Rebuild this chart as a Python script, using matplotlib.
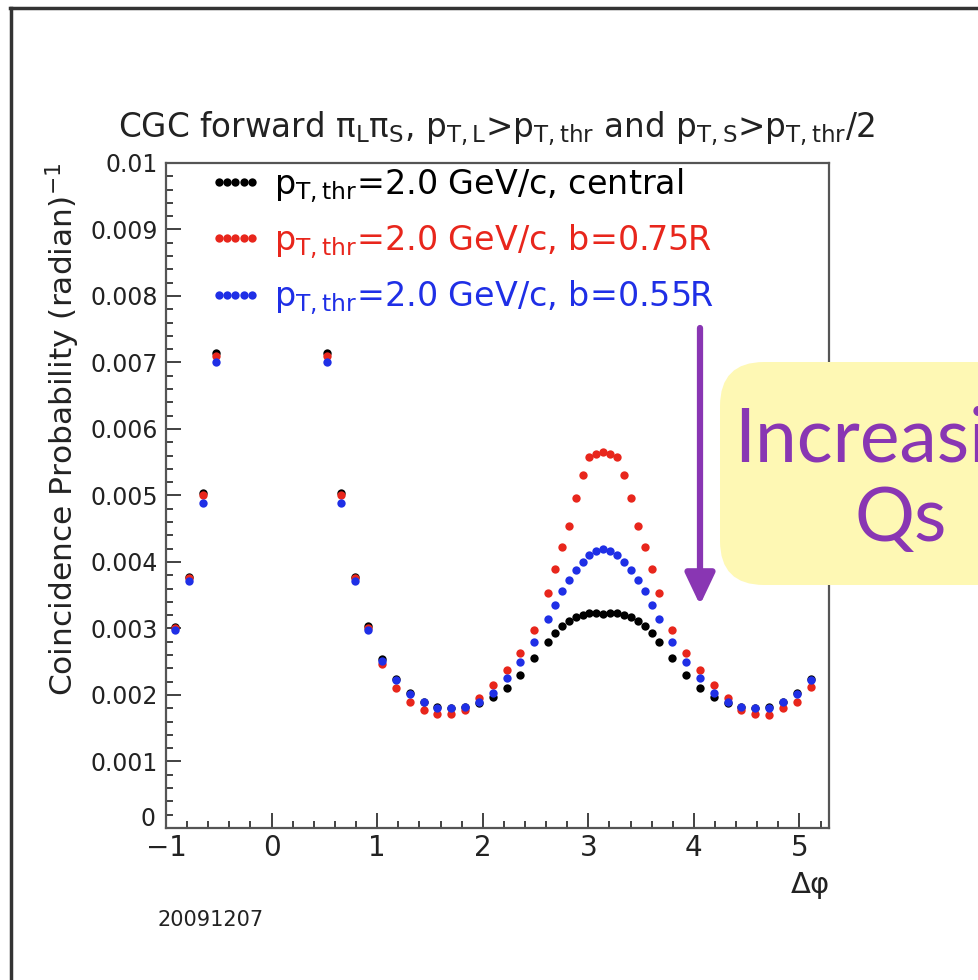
import numpy as np
import matplotlib
matplotlib.use("Agg")
import matplotlib.pyplot as plt
from matplotlib.lines import Line2D
from matplotlib.patches import FancyBboxPatch
from matplotlib.ticker import MultipleLocator, FuncFormatter

# ---- bin centres (radian): pi/24 bins, pi/48 bins around the away-side peak ----
k_near_left = np.array([-7, -6, -5, -4])
k_near_right = np.arange(4, 20)
j_peak = np.arange(40, 57)
k_far = np.arange(29, 40)
dphi = np.concatenate([k_near_left * np.pi / 24,
                       k_near_right * np.pi / 24,
                       j_peak * np.pi / 48,
                       k_far * np.pi / 24])

# ---- coincidence probability, p_T,thr = 2.0 GeV/c ----
prob_central = [
    0.00302, 0.00378, 0.00504, 0.00714,
    0.00714, 0.00503, 0.00378, 0.00303, 0.00254, 0.00224, 0.00203, 0.00190,
    0.00182, 0.00180, 0.00182, 0.00188, 0.00197, 0.00210, 0.00230, 0.00255,
    0.00280, 0.00293, 0.00303, 0.00311, 0.00317, 0.00321, 0.00323, 0.00324,
    0.00322, 0.00324, 0.00323, 0.00321, 0.00317, 0.00311, 0.00303, 0.00293,
    0.00280,
    0.00255, 0.00230, 0.00210, 0.00197, 0.00188, 0.00182, 0.00180, 0.00182,
    0.00190, 0.00203, 0.00224,
]
prob_b075 = [
    0.00300, 0.00376, 0.00500, 0.00709,
    0.00709, 0.00500, 0.00376, 0.00300, 0.00247, 0.00210, 0.00190, 0.00178,
    0.00171, 0.00172, 0.00178, 0.00195, 0.00215, 0.00238, 0.00263, 0.00298,
    0.00353, 0.00390, 0.00423, 0.00454, 0.00496, 0.00531, 0.00558, 0.00562,
    0.00565, 0.00562, 0.00558, 0.00531, 0.00496, 0.00454, 0.00423, 0.00390,
    0.00353,
    0.00298, 0.00263, 0.00238, 0.00215, 0.00195, 0.00178, 0.00172, 0.00170,
    0.00180, 0.00190, 0.00212,
]
prob_b055 = [
    0.00297, 0.00371, 0.00488, 0.00700,
    0.00700, 0.00488, 0.00371, 0.00297, 0.00251, 0.00223, 0.00202, 0.00190,
    0.00181, 0.00180, 0.00182, 0.00190, 0.00203, 0.00225, 0.00250, 0.00280,
    0.00315, 0.00336, 0.00356, 0.00373, 0.00388, 0.00400, 0.00410, 0.00417,
    0.00420, 0.00417, 0.00410, 0.00400, 0.00388, 0.00373, 0.00356, 0.00336,
    0.00315,
    0.00280, 0.00250, 0.00225, 0.00203, 0.00190, 0.00182, 0.00180, 0.00180,
    0.00190, 0.00202, 0.00222,
]

series_labels = [
    r"p$_{\rm T,thr}$=2.0 GeV/c, central",
    r"p$_{\rm T,thr}$=2.0 GeV/c, b=0.75R",
    r"p$_{\rm T,thr}$=2.0 GeV/c, b=0.55R",
]
series_colors = ["#000000", "#e8261c", "#1f2fe6"]

plt.rcParams["font.family"] = ["DejaVu Sans"]
plt.rcParams["mathtext.default"] = "regular"

fig = plt.figure(figsize=(9.79, 9.80), dpi=100)
ax = fig.add_axes([0.1696, 0.1551, 0.6772, 0.6786])

for vals, col, lab in zip([prob_central, prob_b075, prob_b055], series_colors, series_labels):
    ax.plot(dphi, vals, linestyle="none", marker="o", markersize=6.0,
            color=col, markeredgewidth=0, label=lab)

ax.set_xlim(-1.0, 5.28)
ax.set_ylim(0, 0.01)

ax.xaxis.set_major_locator(MultipleLocator(1))
ax.xaxis.set_minor_locator(MultipleLocator(0.2))
ax.yaxis.set_major_locator(MultipleLocator(0.001))
ax.yaxis.set_minor_locator(MultipleLocator(0.0002))
# the zero of the y axis is written separately, raised above the x labels
ax.yaxis.set_major_formatter(FuncFormatter(lambda v, p: "" if abs(v) < 1e-12 else "%g" % round(v, 4)))
ax.xaxis.set_major_formatter(FuncFormatter(lambda v, p: ("\u2212%d" % abs(round(v))) if v < 0 else "%d" % round(v)))

ax.tick_params(axis="both", which="both", direction="in", top=False, right=False,
               colors="#333333", width=1.3)
ax.tick_params(axis="both", which="major", length=11)
ax.tick_params(axis="both", which="minor", length=5)
ax.tick_params(axis="y", which="major", labelsize=17, pad=6, labelcolor="#222222")
ax.tick_params(axis="x", which="major", labelsize=20, pad=4, labelcolor="#222222")
for s in ax.spines.values():
    s.set_color("#555555")
    s.set_linewidth(1.6)
ax.text(-0.016, 0.014, "0", transform=ax.transAxes, ha="right", va="center",
        fontsize=17, color="#222222")

ax.set_ylabel(r"Coincidence Probability (radian)$^{-1}$", loc="top", fontsize=22.5,
              color="#222222", labelpad=6)
ax.set_xlabel(r"$\Delta\varphi$", loc="right", fontsize=21, color="#222222", labelpad=6)

leg = ax.legend(loc="upper left", bbox_to_anchor=(0.044, 1.016), frameon=False,
                fontsize=24, numpoints=5, handlelength=1.6, handletextpad=0.35,
                labelspacing=0.52, markerscale=1.0, labelcolor="linecolor",
                borderaxespad=0)

fig.text(0.507, 0.869,
         r"CGC forward $\pi_{L}\pi_{S}$, p$_{\rm T,L}$>p$_{\rm T,thr}$ and p$_{\rm T,S}$>p$_{\rm T,thr}$/2",
         ha="center", va="center", fontsize=23.5, color="#222222")
fig.text(0.215, 0.061, "20091207", ha="center", va="center", fontsize=15, color="#222222")

# slide frame
fig.add_artist(Line2D([10 / 979, 1.0], [1 - 8 / 980, 1 - 8 / 980], transform=fig.transFigure,
                      color="#333333", linewidth=2.5))
fig.add_artist(Line2D([11 / 979, 11 / 979], [0.0, 1 - 8 / 980], transform=fig.transFigure,
                      color="#333333", linewidth=2.5))

# annotation: arrow and callout
purple = "#8936b3"
fig.patches.append(FancyBboxPatch((720 / 979, 1 - 585 / 980), 300 / 979, 223 / 980,
                                  boxstyle="round,pad=0,rounding_size=0.045",
                                  transform=fig.transFigure, facecolor="#fef8b4",
                                  edgecolor="none", zorder=5))
ax.annotate("", xy=(700 / 979, 1 - 605 / 980), xytext=(700 / 979, 1 - 328 / 980),
            xycoords="figure fraction", textcoords="figure fraction",
            arrowprops=dict(arrowstyle="-|>,head_length=1.9,head_width=0.9",
                            color=purple, linewidth=4.5, shrinkA=0, shrinkB=0),
            annotation_clip=False, zorder=6)
fig.text(901 / 979, 1 - 480 / 980, "Increasing\nQs", ha="center", va="center",
         fontsize=54, color=purple, family=["Lato", "DejaVu Sans"], linespacing=1.15,
         zorder=7)

fig.savefig("out.png", dpi=100)
